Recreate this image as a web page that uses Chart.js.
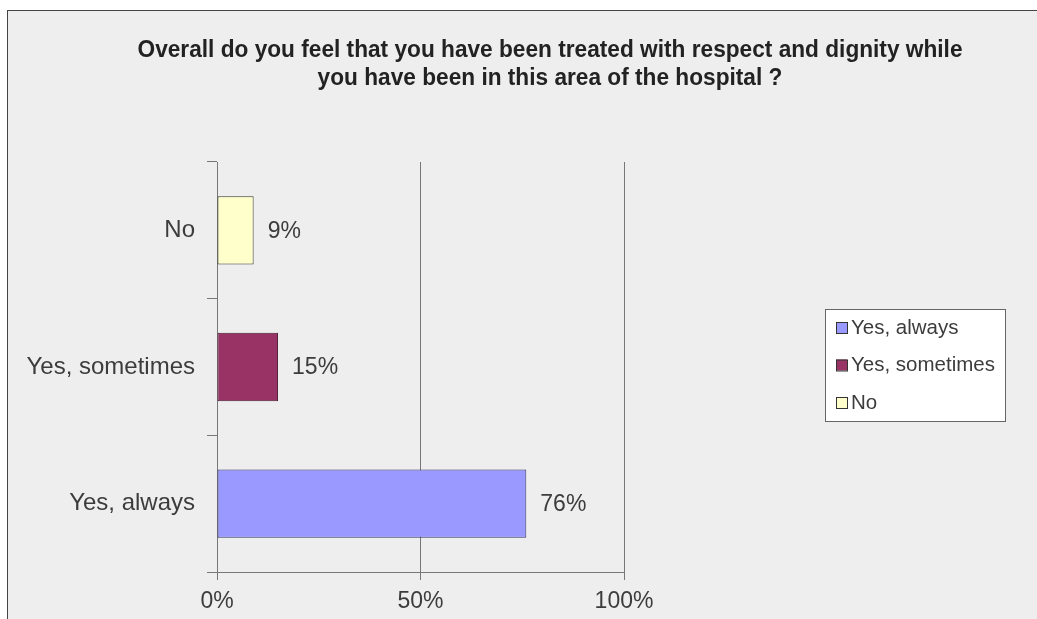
<!DOCTYPE html>
<html><head><meta charset="utf-8">
<script src="https://cdn.jsdelivr.net/npm/chart.js@4.4.0/dist/chart.umd.min.js"></script>
<style>
html,body{margin:0;padding:0;background:#fff;width:1037px;height:619px;overflow:hidden}
#frame{position:absolute;left:7px;top:10px;width:1040px;height:620px;border-left:1px solid #444;border-top:1px solid #444;background:#eeeeee}
#c{position:absolute;left:0;top:0}
</style></head><body>
<div id="frame"></div>
<canvas id="c" width="1037" height="619"></canvas>
<script>
const titleLines = ['Overall do you feel that you have been treated with respect and dignity while', 'you have been in this area of the hospital ?'];
const categories = ['Yes, always', 'Yes, sometimes', 'No'];
const values = [76, 15, 9];
const barColors = ['#9999ff', '#993366', '#ffffcc'];
const barBorders = ['#333366', '#4a1a30', '#3a3a2a'];
const xTickValues = [0, 50, 100];

const textColor = '#3c3c3c';
const baseFont = '"Liberation Sans", Arial, sans-serif';

const narrowTitle = {
  id: 'narrowTitle',
  afterDraw(chart) {
    const ctx = chart.ctx;
    ctx.save();
    ctx.font = 'bold 23px ' + baseFont;
    ctx.fillStyle = '#222222';
    ctx.textAlign = 'center';
    ctx.textBaseline = 'middle';
    const w = ctx.measureText(titleLines[0]).width;
    const sx = 825 / w;
    const cx = 550;
    titleLines.forEach((line, i) => {
      ctx.save();
      ctx.translate(cx, 51 + i * 28);
      ctx.scale(sx, 1);
      ctx.fillText(line, 0, 0);
      ctx.restore();
    });
    ctx.restore();
  }
};

const valueLabels = {
  id: 'valueLabels',
  afterDatasetsDraw(chart) {
    const ctx = chart.ctx;
    const meta = chart.getDatasetMeta(0);
    ctx.save();
    ctx.font = '23px ' + baseFont;
    ctx.fillStyle = textColor;
    ctx.textAlign = 'left';
    ctx.textBaseline = 'middle';
    meta.data.forEach((bar, i) => {
      ctx.fillText(values[i] + '%', bar.x + 14, bar.y + 1);
    });
    ctx.restore();
  }
};

const boxLegend = {
  id: 'boxLegend',
  afterDraw(chart) {
    const ctx = chart.ctx;
    const bx = 825.5, by = 309.5, bw = 180, bh = 112;
    ctx.save();
    ctx.fillStyle = '#ffffff';
    ctx.fillRect(bx, by, bw, bh);
    ctx.strokeStyle = '#666666';
    ctx.lineWidth = 1;
    ctx.strokeRect(bx, by, bw, bh);
    ctx.font = '20.5px ' + baseFont;
    ctx.textBaseline = 'middle';
    ctx.textAlign = 'left';
    categories.forEach((c, i) => {
      const cy = 328 + i * 37.5;
      ctx.fillStyle = barColors[i];
      ctx.fillRect(836, cy - 6, 11, 11);
      ctx.strokeStyle = '#333333';
      ctx.strokeRect(836.5, cy - 5.5, 11, 11);
      ctx.fillStyle = textColor;
      ctx.fillText(c, 851, cy);
    });
    ctx.restore();
  }
};

new Chart(document.getElementById('c'), {
  type: 'bar',
  data: {
    labels: categories,
    datasets: [{
      data: values,
      backgroundColor: barColors,
      borderColor: barBorders,
      borderWidth: 1,
      borderSkipped: false,
      categoryPercentage: 1,
      barPercentage: 0.5
    }]
  },
  options: {
    indexAxis: 'y',
    responsive: false,
    animation: false,
    layout: { padding: { left: 0, right: 413, top: 162, bottom: 0 } },
    plugins: {
      legend: { display: false },
      tooltip: { enabled: false },
      title: { display: false }
    },
    scales: {
      x: {
        min: 0, max: 100,
        afterFit(s) { s.height = 47; },
        afterBuildTicks(s) { s.ticks = xTickValues.map(v => ({ value: v })); },
        border: { display: true, color: '#777777', width: 1 },
        grid: { color: '#777777', lineWidth: 1, drawTicks: true, tickLength: 8 },
        ticks: {
          color: textColor, padding: 8,
          font: { family: baseFont, size: 23 },
          callback: v => v + '%'
        }
      },
      y: {
        reverse: true,
        afterFit(s) { s.width = 217; },
        border: { display: true, color: '#777777', width: 1 },
        grid: { display: true, drawOnChartArea: false, drawTicks: true, tickLength: 10, color: '#777777', offset: true },
        ticks: {
          color: textColor, padding: 12,
          font: { family: baseFont, size: 24 }
        }
      }
    }
  },
  plugins: [valueLabels, boxLegend, narrowTitle]
});
</script>
</body></html>
